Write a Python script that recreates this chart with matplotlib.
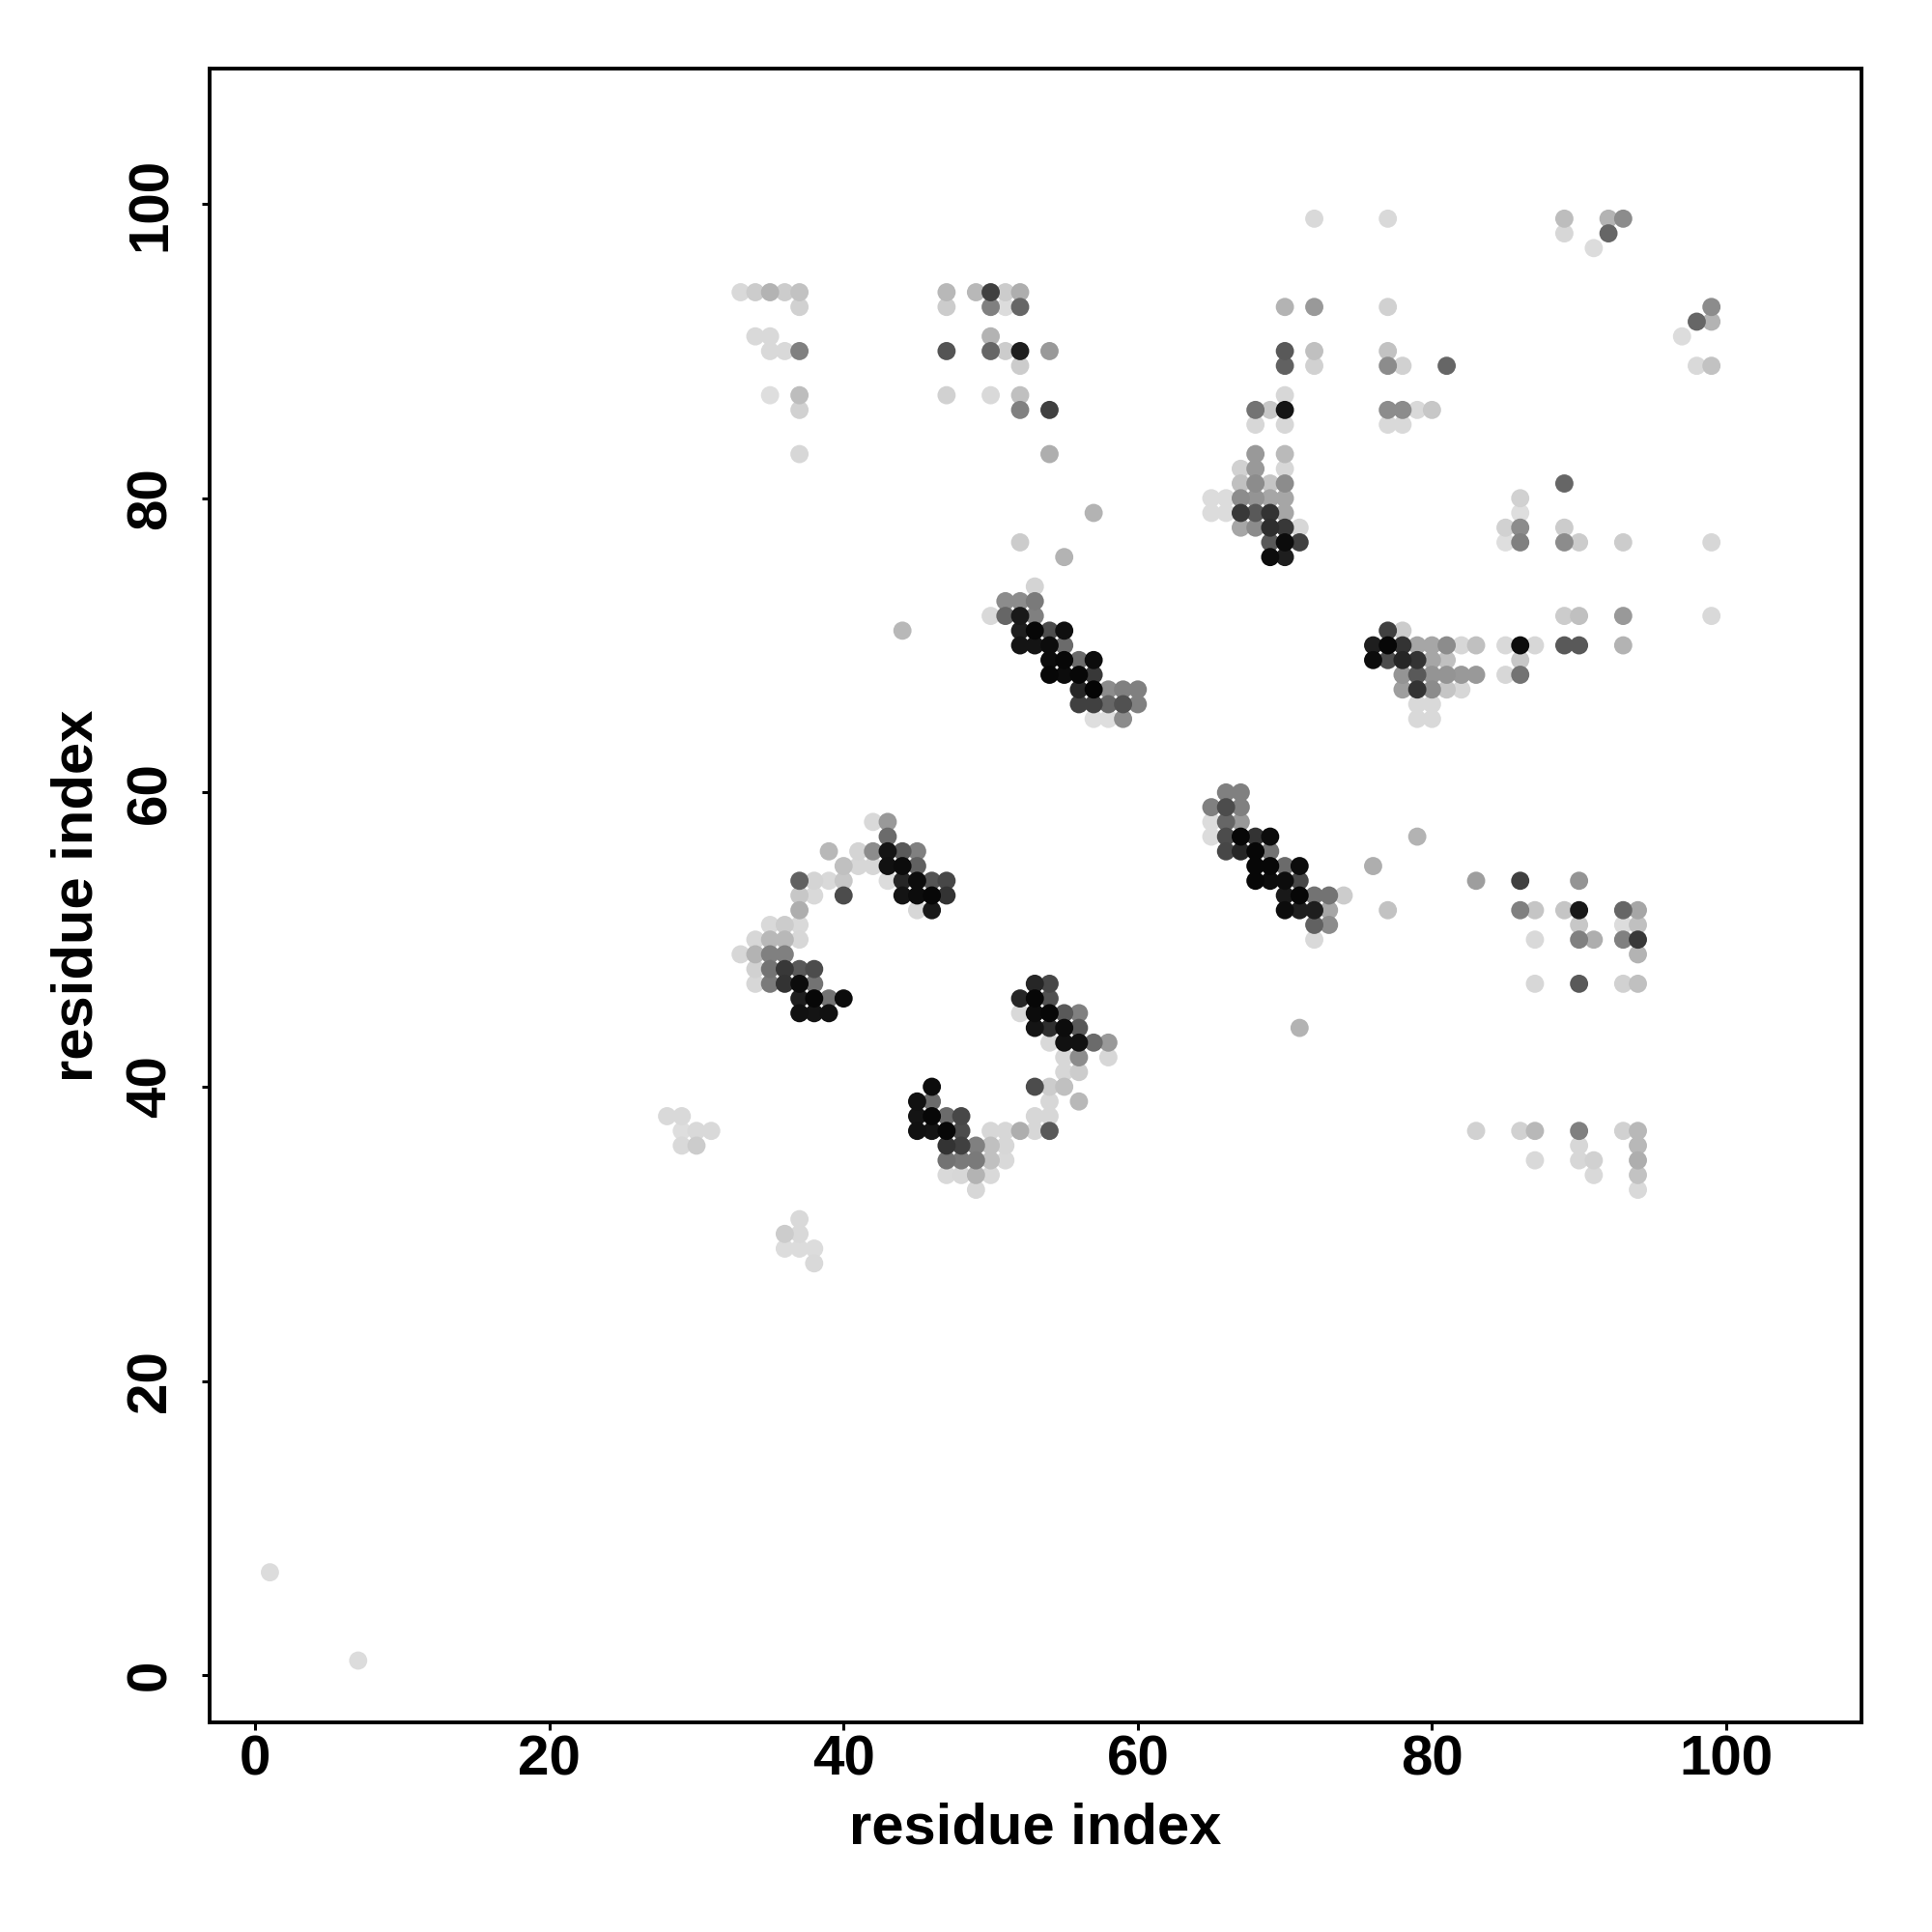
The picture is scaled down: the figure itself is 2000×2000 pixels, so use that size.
import matplotlib
matplotlib.use('Agg')
import matplotlib.pyplot as plt
import numpy as np

plt.rcParams['font.family'] = ['Liberation Sans', 'DejaVu Sans']
plt.rcParams['font.weight'] = 'bold'

# contacts as (residue i, residue j, grey level 0=black .. 1=white)
top_left = [(33, 94, .85), (34, 94, .80), (35, 94, .70), (36, 94, .80), (37, 94, .76), (37, 93, .82),
            (34, 91, .85), (35, 91, .85), (35, 90, .85), (36, 90, .85), (37, 90, .50),
            (35, 87, .87), (37, 87, .74), (37, 86, .82), (37, 83, .84)]

top_mid = [(47, 94, .72), (47, 93, .80), (47, 90, .33), (47, 87, .82),
           (49, 94, .72), (50, 94, .25), (50, 93, .50), (50, 91, .70), (50, 90, .40), (50, 87, .85),
           (51, 94, .80), (51, 93, .86), (51, 90, .80),
           (52, 94, .68), (52, 93, .40), (52, 90, .12), (52, 89, .80), (52, 87, .75), (52, 86, .50),
           (54, 90, .60), (54, 86, .25), (54, 83, .68),
           (52, 77, .80), (57, 79, .70), (55, 76, .70)]

upper_block = [(70, 93, .70), (72, 93, .60), (70, 90, .35), (72, 90, .75), (70, 89, .38), (72, 89, .82),
               (70, 87, .84), (72, 99, .85),
               (68, 86, .45), (69, 86, .78), (70, 86, .08), (68, 85, .84), (70, 85, .84),
               (68, 83, .60), (70, 83, .73), (67, 82, .82), (68, 82, .60), (70, 82, .84),
               (67, 81, .75), (68, 81, .55), (69, 81, .77), (70, 81, .55),
               (65, 80, .86), (66, 80, .86), (67, 80, .55), (68, 80, .58), (69, 80, .65), (70, 80, .65),
               (65, 79, .86), (66, 79, .86), (67, 79, .22), (68, 79, .35), (69, 79, .20), (70, 79, .65),
               (67, 78, .65), (68, 78, .55), (69, 78, .18), (70, 78, .22), (71, 78, .84),
               (69, 77, .35), (70, 77, .05), (71, 77, .25), (69, 76, .05), (70, 76, .12)]

upper_right = [(77, 99, .85), (77, 93, .82), (77, 90, .76), (77, 89, .55), (78, 89, .82), (81, 89, .40),
               (77, 86, .55), (78, 86, .55), (79, 86, .85), (80, 86, .78), (77, 85, .85), (78, 85, .85),
               (89, 99, .74), (89, 98, .84), (91, 97, .86), (92, 99, .70), (92, 98, .40), (93, 99, .55),
               (97, 91, .86), (98, 92, .40), (98, 89, .85), (99, 93, .55), (99, 92, .70), (99, 89, .76),
               (89, 81, .40), (86, 80, .82), (86, 79, .87), (85, 78, .82), (86, 78, .55), (89, 78, .80),
               (85, 77, .87), (86, 77, .50), (89, 77, .55), (90, 77, .80), (93, 77, .80), (99, 77, .84),
               (89, 72, .80), (90, 72, .75), (93, 72, .60), (99, 72, .85)]

sheet_70 = [(77, 71, .25), (78, 71, .80),
            (76, 70, .12), (77, 70, .03), (78, 70, .20), (79, 70, .65), (80, 70, .65), (81, 70, .55),
            (82, 70, .84), (83, 70, .75), (85, 70, .85), (86, 70, .05), (87, 70, .84), (89, 70, .35),
            (90, 70, .35), (93, 70, .70),
            (76, 69, .05), (77, 69, .30), (78, 69, .15), (79, 69, .20), (80, 69, .65), (81, 69, .75), (86, 69, .78),
            (78, 68, .58), (79, 68, .35), (80, 68, .58), (81, 68, .58), (82, 68, .60), (83, 68, .60),
            (85, 68, .84), (86, 68, .45),
            (78, 67, .62), (79, 67, .20), (80, 67, .55), (81, 67, .77), (82, 67, .84),
            (79, 66, .85), (80, 66, .85), (79, 65, .85), (80, 65, .85)]

diag_70 = [(44, 71, .72), (50, 72, .85), (53, 74, .83),
           (51, 73, .55), (52, 73, .55), (53, 73, .48),
           (51, 72, .40), (52, 72, .10), (53, 72, .50),
           (52, 71, .12), (53, 71, .03), (54, 71, .30), (55, 71, .06),
           (52, 70, .08), (53, 70, .08), (54, 70, .05), (55, 70, .42),
           (54, 69, .05), (55, 69, .03), (56, 69, .42), (57, 69, .05),
           (54, 68, .03), (55, 68, .05), (56, 68, .03), (57, 68, .22),
           (56, 67, .15), (57, 67, .02), (58, 67, .55), (59, 67, .50), (60, 67, .50),
           (56, 66, .25), (57, 66, .25), (58, 66, .40), (59, 66, .32), (60, 66, .50),
           (57, 65, .87), (58, 65, .87), (59, 65, .55)]

diag_55 = [(66, 60, .50), (67, 60, .50),
           (65, 59, .50), (66, 59, .30), (67, 59, .50),
           (65, 58, .86), (66, 58, .40), (67, 58, .60),
           (65, 57, .86), (66, 57, .30), (67, 57, .03), (68, 57, .20), (69, 57, .05),
           (66, 56, .28), (67, 56, .15), (68, 56, .03), (69, 56, .45),
           (68, 55, .03), (69, 55, .03), (70, 55, .42), (71, 55, .05),
           (68, 54, .03), (69, 54, .05), (70, 54, .05), (71, 54, .28),
           (70, 53, .10), (71, 53, .03), (72, 53, .45), (73, 53, .45), (74, 53, .80),
           (70, 52, .05), (71, 52, .12), (72, 52, .12), (73, 52, .65),
           (72, 51, .38), (73, 51, .55), (72, 50, .85),
           (76, 55, .68), (77, 52, .76), (79, 57, .70), (71, 44, .70)]

right_cols = [(83, 54, .62), (86, 54, .25), (90, 54, .58),
              (86, 52, .50), (87, 52, .77), (89, 52, .77), (90, 52, .10), (93, 52, .40), (94, 52, .65),
              (90, 51, .78), (93, 51, .86), (94, 51, .75),
              (87, 50, .85), (90, 50, .50), (91, 50, .68), (93, 50, .50), (94, 50, .22),
              (94, 49, .70),
              (87, 47, .84), (90, 47, .35), (93, 47, .82), (94, 47, .75),
              (83, 37, .82), (86, 37, .82), (87, 37, .72), (90, 37, .50), (93, 37, .82), (94, 37, .72),
              (90, 36, .84), (94, 36, .72),
              (87, 35, .85), (90, 35, .84), (91, 35, .82), (94, 35, .68),
              (91, 34, .85), (94, 34, .76), (94, 33, .85)]

hairpin_a = [(42, 58, .85), (43, 58, .60), (43, 57, .42),
             (39, 56, .72), (41, 56, .83), (42, 56, .55), (43, 56, .08), (44, 56, .35), (45, 56, .50),
             (40, 55, .75), (41, 55, .84), (42, 55, .84), (43, 55, .07), (44, 55, .05), (45, 55, .38),
             (37, 54, .38), (38, 54, .83), (39, 54, .85), (40, 54, .78), (43, 54, .86), (44, 54, .15),
             (45, 54, .05), (46, 54, .33), (47, 54, .28),
             (37, 53, .78), (38, 53, .85), (40, 53, .30), (44, 53, .08), (45, 53, .05), (46, 53, .03), (47, 53, .20),
             (37, 52, .68), (45, 52, .84), (46, 52, .10),
             (35, 51, .85), (36, 51, .80), (37, 51, .85),
             (34, 50, .84), (35, 50, .72), (36, 50, .72), (37, 50, .84),
             (33, 49, .84), (34, 49, .70), (35, 49, .50), (36, 49, .50),
             (34, 48, .82), (35, 48, .45), (36, 48, .22), (37, 48, .35), (38, 48, .30),
             (34, 47, .84), (35, 47, .48), (36, 47, .20), (37, 47, .05), (38, 47, .45),
             (37, 46, .12), (38, 46, .03), (39, 46, .45), (40, 46, .05),
             (37, 45, .07), (38, 45, .08), (39, 45, .07)]

hairpin_b = [(46, 40, .05), (45, 39, .07), (46, 39, .42),
             (45, 38, .08), (46, 38, .03), (47, 38, .42), (48, 38, .28),
             (45, 37, .07), (46, 37, .08), (47, 37, .03), (48, 37, .30), (50, 37, .84), (51, 37, .84), (52, 37, .68),
             (47, 36, .20), (48, 36, .25), (49, 36, .50), (50, 36, .75), (51, 36, .84),
             (47, 35, .45), (48, 35, .48), (49, 35, .48), (50, 35, .75), (51, 35, .85),
             (47, 34, .85), (48, 34, .84), (49, 34, .70), (50, 34, .85), (49, 33, .84),
             (53, 47, .15), (54, 47, .28),
             (52, 46, .15), (53, 46, .03), (54, 46, .32),
             (52, 45, .85), (53, 45, .05), (54, 45, .03), (55, 45, .35), (56, 45, .50),
             (53, 44, .08), (54, 44, .18), (55, 44, .05), (56, 44, .35),
             (54, 43, .85), (55, 43, .07), (56, 43, .07), (57, 43, .42), (58, 43, .60),
             (55, 42, .84), (56, 42, .55), (58, 42, .84),
             (55, 41, .84), (56, 41, .80),
             (53, 40, .30), (54, 40, .80), (55, 40, .75),
             (54, 39, .84), (56, 39, .72),
             (53, 38, .84), (54, 38, .84),
             (53, 37, .84), (54, 37, .35)]

scattered = [(28, 38, .85), (29, 38, .85), (29, 37, .87), (30, 37, .85), (31, 37, .85), (29, 36, .85), (30, 36, .80),
             (37, 31, .85), (36, 30, .80), (37, 30, .85), (36, 29, .86), (37, 29, .86), (38, 29, .86), (38, 28, .85),
             (1, 7, .86), (7, 1, .86)]

groups = [top_left, top_mid, upper_block, upper_right, sheet_70, diag_70,
          diag_55, right_cols, hairpin_a, hairpin_b, scattered]
contacts = np.array([p for g in groups for p in g])
# draw lighter points first so the darker ones sit on top
contacts = contacts[np.argsort(-contacts[:, 2])]

fig = plt.figure(figsize=(10, 10), dpi=200)
ax = fig.add_axes([0.1085, 0.1085, 0.855, 0.856])

ax.scatter(contacts[:, 0], contacts[:, 1], c=contacts[:, 2], cmap='gray', vmin=0, vmax=1,
           s=46, linewidths=0)

ax.set_xlim(-3.1, 109.2)
ax.set_ylim(-3.2, 109.2)
ticks = [0, 20, 40, 60, 80, 100]
ax.set_xticks(ticks)
ax.set_yticks(ticks)
ax.set_xticklabels([str(t) for t in ticks], fontsize=21, fontweight='bold')
ax.set_yticklabels([str(t) for t in ticks], fontsize=21, fontweight='bold',
                   rotation=90, va='center')
ax.tick_params(axis='both', direction='out', length=3, width=1.1, color='black')
ax.tick_params(axis='x', pad=1.5)
ax.tick_params(axis='y', pad=9)
for sp in ax.spines.values():
    sp.set_linewidth(1.4)

ax.set_xlabel('residue index', fontsize=21.5, fontweight='bold')
ax.set_ylabel('residue index', fontsize=21.5, fontweight='bold')
ax.xaxis.label.set_va('center')
ax.yaxis.label.set_va('center')
ax.xaxis.set_label_coords(0.5, -0.064)
ax.yaxis.set_label_coords(-0.080, 0.5)

fig.savefig('out.png', dpi=200, facecolor='white')
